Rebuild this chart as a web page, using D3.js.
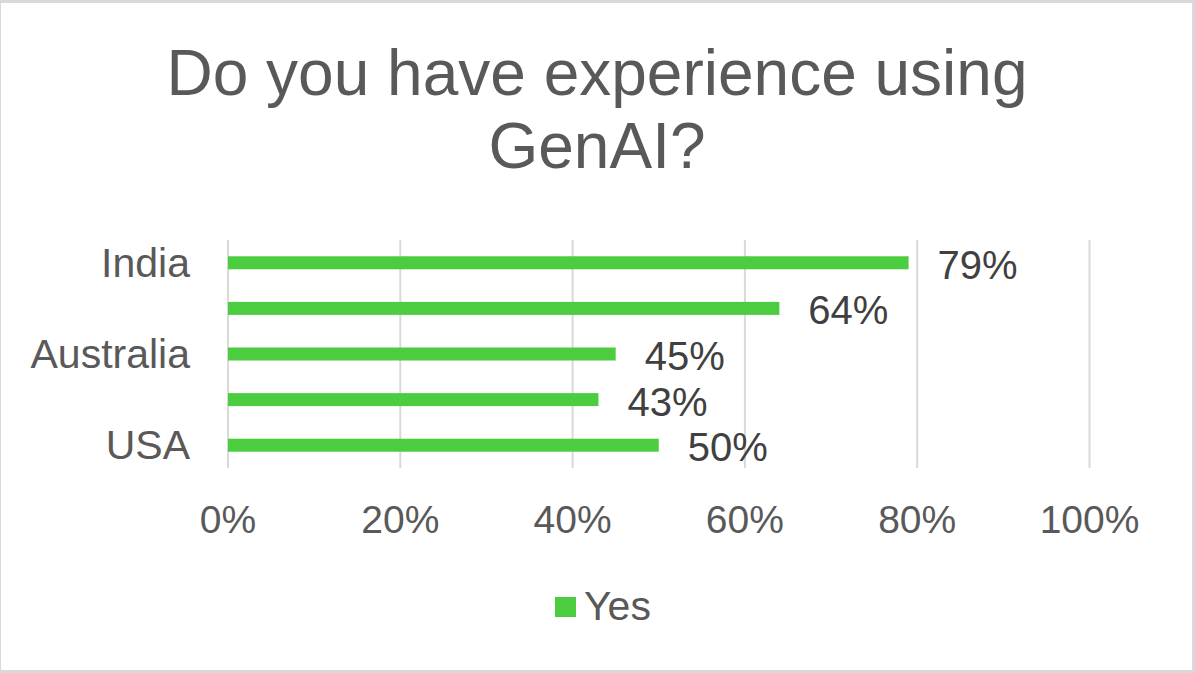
<!DOCTYPE html>
<html><head><meta charset="utf-8">
<script src="https://cdn.jsdelivr.net/npm/d3@7"></script>
<style>html,body{margin:0;padding:0;background:#fff;}svg{display:block;}</style>
</head><body>
<script>
const categories = ["India", "", "Australia", "", "USA"];
const yesValues = [0.79, 0.64, 0.45, 0.43, 0.50];
const xTicks = [0, 0.2, 0.4, 0.6, 0.8, 1.0];
const seriesName = "Yes";
const titleLines = ["Do you have experience using", "GenAI?"];

const W = 1195, H = 673;
const font = "'Liberation Sans', Arial, sans-serif";
const textColor = "#595959";
const green = "#4ccd3f";

const svg = d3.select("body").append("svg").attr("width", W).attr("height", H);
svg.append("rect").attr("width", W).attr("height", H).attr("fill", "#d9d9d9");
svg.append("rect").attr("x", 1).attr("y", 3).attr("width", 1191).attr("height", 667).attr("fill", "#fff");

svg.append("g").selectAll("text").data(titleLines).join("text")
  .attr("x", 597).attr("y", (d, i) => 95 + i * 73)
  .attr("text-anchor", "middle").attr("font-family", font).attr("font-size", 64)
  .attr("fill", textColor).text(d => d);

const x = d3.scaleLinear().domain([0, 1]).range([228, 1089.5]);
const y = d3.scaleBand().domain(d3.range(categories.length)).range([240, 468]).paddingInner(0.715).paddingOuter(0.357);

// gridlines
svg.append("g").selectAll("line").data(xTicks).join("line")
  .attr("x1", d => x(d)).attr("x2", d => x(d)).attr("y1", 240).attr("y2", 468)
  .attr("stroke", "#d9d9d9").attr("stroke-width", 2);

// bars
svg.append("g").selectAll("rect").data(yesValues).join("rect")
  .attr("x", x(0)).attr("y", (d, i) => y(i))
  .attr("width", d => x(d) - x(0)).attr("height", y.bandwidth())
  .attr("fill", green);

// data labels
svg.append("g").selectAll("text").data(yesValues).join("text")
  .attr("x", d => x(d) + 29).attr("y", (d, i) => y(i) + y.bandwidth() / 2 + 16)
  .attr("font-family", font).attr("font-size", 40).attr("fill", "#404040")
  .text(d => d3.format(".0%")(d));

// category labels
svg.append("g").selectAll("text").data(categories).join("text")
  .attr("x", 190).attr("y", (d, i) => y(i) + y.bandwidth() / 2 + 14)
  .attr("text-anchor", "end").attr("font-family", font).attr("font-size", 41)
  .attr("fill", textColor).text(d => d);

// x tick labels
svg.append("g").selectAll("text").data(xTicks).join("text")
  .attr("x", d => x(d)).attr("y", 533)
  .attr("text-anchor", "middle").attr("font-family", font).attr("font-size", 39)
  .attr("fill", textColor).text(d => d3.format(".0%")(d));

// legend
svg.append("rect").attr("x", 555).attr("y", 597).attr("width", 21).attr("height", 20).attr("fill", green);
svg.append("text").attr("x", 584).attr("y", 620).attr("font-family", font).attr("font-size", 41)
  .attr("fill", textColor).text(seriesName);
</script>
</body></html>
